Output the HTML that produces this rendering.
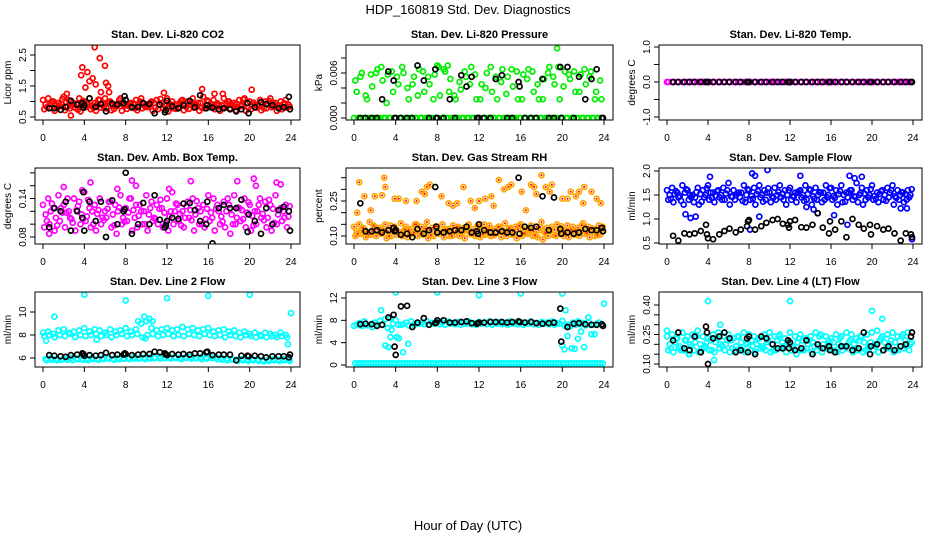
<!DOCTYPE html>
<html><head><meta charset="utf-8"><style>
html,body{margin:0;padding:0;background:#fff;}
svg{display:block;font-family:"Liberation Sans",Arial,sans-serif;}
</style></head><body>
<svg id="chart" width="936" height="540" viewBox="0 0 936 540" xmlns="http://www.w3.org/2000/svg">
<rect x="0" y="0" width="936" height="540" fill="#fff"/>
<text x="468" y="14" text-anchor="middle" font-size="13">HDP_160819  Std. Dev. Diagnostics</text>
<text x="468" y="530" text-anchor="middle" font-size="13">Hour of Day (UTC)</text>
</svg>
<script>
const blackHours=[0.6,1.1,1.7,2.2,2.7,3.3,3.8,3.9,4.0,4.5,5.1,5.6,6.1,6.7,7.2,7.8,7.9,8.0,8.6,9.2,9.7,10.3,10.8,11.3,11.8,11.9,12.0,12.5,13.1,13.6,14.2,14.7,15.2,15.8,15.9,16.4,17.0,17.5,18.1,18.7,19.2,19.8,19.9,20.5,21.1,21.6,22.2,22.8,23.3,23.8,23.9];
const xTicks=[0,4,8,12,16,20,24];

const co2A=[1.05,1.1,1.0,0.95,1.15,1.05,0.9,1.1,1.0,1.1,0.95,1.05,1.1,1.0,0.9,1.1,1.05,0.95,1.05,1.1,0.9,1.0,1.05,0.95,1.1,1.0,0.9,1.05,1.0,1.1,0.95,1.15,1.0,1.05,0.9,1.1,1.0,0.95,1.05,1.1,1.0,0.9,1.05,1.0,1.1,0.95,1.0,1.05];
const co2B=[0.75,0.8,0.7,0.85,0.72,0.78,0.8,0.68,0.82,0.75,0.7,0.8,0.78,0.72,0.85,0.7,0.76,0.8,0.72,0.78,0.82,0.7,0.75,0.8,0.68,0.78,0.82,0.72,0.76,0.8,0.7,0.78,0.82,0.75,0.7,0.8,0.78,0.72,0.85,0.7,0.75,0.8,0.72,0.78,0.82,0.7,0.75,0.8];
const co2C=[0.9,0.95,0.88,0.92,0.98,0.86,0.93,0.9,0.95,0.87,0.92,0.9,0.96,0.88,0.93,0.9,0.86,0.94,0.9,0.92,0.88,0.95,0.9,0.87,0.93,0.9,0.96,0.88,0.92,0.9,0.95,0.87,0.93,0.9,0.88,0.94,0.9,0.92,0.86,0.95,0.9,0.88,0.93,0.9,0.96,0.88,0.92,0.9];
const co2D=[0.82,1.0,0.78,1.08,0.85,0.96,0.74,1.02,0.88,0.8,1.06,0.84,0.98,0.76,1.04,0.86,0.92,0.78,1.0,0.84,0.96,0.8,1.08,0.86,0.9,0.76,1.02,0.82,0.98,0.86,0.8,1.04,0.84,0.94,0.78,1.0,0.86,0.82,1.06,0.8,0.96,0.84,0.78,1.02,0.88,0.8,0.94,0.84];
const co2OutH=[3.8,3.7,4.3,4.1,4.5,4.8,5.0,5.5,5.1,5.6,6.0,6.1,6.3,6.4,2.3,2.7,15.4,20.2,17.4,16.6,11.7];
const co2OutV=[2.1,1.85,1.95,1.45,1.65,1.75,2.75,2.4,1.55,1.3,2.15,1.6,1.5,1.3,1.25,0.55,1.4,1.38,1.25,1.25,1.28];
const co2Black=[0.78,0.78,0.73,0.82,1.02,0.9,0.95,0.8,0.88,1.1,0.83,0.92,0.68,0.93,0.9,0.95,1.17,1.05,0.82,0.82,0.95,0.92,0.62,0.9,0.65,0.72,1.02,0.85,0.78,0.88,1.02,0.82,1.2,0.78,0.88,0.8,0.75,0.78,0.75,0.68,0.75,0.95,0.62,0.82,0.98,0.92,0.88,0.78,0.82,1.15,0.75];

const presA=[0,0,0,0,0,0,0,0,0,0,0,0,0,0,0,0,0,0,0,0,0,0,0,0,0,0,0,0,0,0,0,0,0,0,0,0,0,0,0,0,0,0,0,0,0,0,0,0];
const presB=[0.005,0.0055,0.003,0.0058,0.006,0.0068,0.002,0.0062,0.0055,0.0068,0.004,0.0045,0.003,0.0062,0.0055,0.0025,0.0068,0.0065,0.0035,0.003,0.0048,0.0062,0.0045,0.0058,0.0025,0.004,0.0068,0.0055,0.0048,0.0032,0.0065,0.0062,0.0025,0.0052,0.0062,0.0045,0.0025,0.006,0.0055,0.0068,0.0042,0.0058,0.0062,0.0035,0.0065,0.0055,0.0025,0.005];
const presC=[0.0035,0.006,0.0025,0.0042,0.0065,0.005,0.0058,0.0035,0.0045,0.006,0.0025,0.0055,0.0065,0.0035,0.0045,0.0058,0.003,0.0062,0.0052,0.0025,0.0038,0.0055,0.0068,0.0025,0.0045,0.006,0.0035,0.0025,0.0065,0.0055,0.0042,0.0025,0.0058,0.0065,0.0035,0.0025,0.0052,0.0068,0.0045,0.0025,0.0062,0.0052,0.0035,0.0058,0.0045,0.0062,0.0035,0.0025];
const presD=presA;
const presOutH=[19.5,8.0,9.0];
const presOutV=[0.0093,0.007,0.007];
const presBlack=[0,0,0,0,0.0025,0.0062,0.005,0,0,0,0,0,0.007,0.005,0,0.0065,0,0,0,0.0025,0,0.0057,0.0042,0.0055,0,0,0,0,0,0.0052,0.0057,0,0,0.0048,0.0042,0,0,0,0.0052,0,0,0.0068,0,0.0068,0,0.0055,0.0025,0.0052,0.0065,0,0];

const tempA=presA;
const tempBlack=[0,0,0,0,0,0,0,0,0,0,0,0,0,0,0,0,0,0,0,0,0,0,0,0,0,0,0,0,0,0,0,0,0,0,0,0,0,0,0,0,0,0,0,0,0,0,0,0,0,0,0];

const boxA=[0.13,0.14,0.125,0.145,0.13,0.12,0.14,0.135,0.15,0.125,0.13,0.14,0.12,0.135,0.13,0.145,0.125,0.14,0.13,0.12,0.145,0.135,0.13,0.125,0.14,0.15,0.13,0.12,0.135,0.14,0.125,0.13,0.145,0.14,0.12,0.135,0.13,0.145,0.125,0.14,0.13,0.12,0.14,0.135,0.13,0.145,0.125,0.13];
const boxB=[0.095,0.1,0.09,0.105,0.095,0.11,0.09,0.1,0.105,0.095,0.09,0.1,0.11,0.095,0.085,0.1,0.105,0.09,0.095,0.1,0.09,0.105,0.1,0.095,0.09,0.1,0.105,0.095,0.11,0.09,0.1,0.095,0.105,0.09,0.1,0.095,0.085,0.1,0.105,0.095,0.09,0.1,0.11,0.095,0.09,0.1,0.105,0.095];
const boxC=[0.115,0.12,0.11,0.125,0.118,0.108,0.122,0.115,0.112,0.12,0.116,0.11,0.124,0.115,0.12,0.11,0.118,0.122,0.113,0.12,0.115,0.11,0.124,0.118,0.112,0.12,0.116,0.11,0.122,0.115,0.12,0.108,0.118,0.124,0.112,0.12,0.115,0.11,0.122,0.118,0.113,0.12,0.116,0.11,0.124,0.115,0.12,0.112];
const boxD=[0.105,0.132,0.098,0.118,0.14,0.102,0.128,0.108,0.138,0.1,0.122,0.106,0.135,0.098,0.126,0.104,0.14,0.11,0.13,0.1,0.125,0.108,0.138,0.102,0.12,0.132,0.098,0.128,0.106,0.136,0.1,0.124,0.11,0.13,0.104,0.14,0.1,0.126,0.108,0.134,0.098,0.13,0.106,0.138,0.102,0.122,0.11,0.128];
const boxOutH=[2.0,3.8,4.6,7.2,8.6,9.0,12.2,14.3,18.8,20.4,20.6,22.6,23.0,0.6];
const boxOutV=[0.158,0.153,0.165,0.155,0.168,0.16,0.155,0.167,0.167,0.171,0.16,0.165,0.162,0.085];
const boxBlack=[0.095,0.125,0.12,0.135,0.09,0.12,0.11,0.15,0.09,0.135,0.105,0.135,0.08,0.137,0.1,0.12,0.123,0.18,0.085,0.1,0.133,0.1,0.145,0.107,0.095,0.098,0.105,0.11,0.108,0.132,0.133,0.122,0.105,0.1,0.135,0.07,0.125,0.13,0.125,0.125,0.138,0.088,0.115,0.105,0.085,0.125,0.1,0.122,0.127,0.12,0.09];

const rhA=[0.14,0.15,0.13,0.16,0.14,0.135,0.15,0.145,0.13,0.155,0.14,0.13,0.15,0.14,0.16,0.135,0.14,0.15,0.13,0.145,0.14,0.135,0.15,0.13,0.14,0.15,0.145,0.13,0.14,0.155,0.135,0.14,0.15,0.13,0.145,0.14,0.16,0.135,0.14,0.15,0.13,0.145,0.14,0.135,0.155,0.14,0.13,0.145];
const rhB=[0.1,0.11,0.095,0.105,0.1,0.11,0.09,0.1,0.105,0.1,0.095,0.11,0.1,0.105,0.09,0.1,0.11,0.095,0.1,0.105,0.1,0.09,0.11,0.1,0.095,0.105,0.1,0.11,0.095,0.1,0.105,0.09,0.1,0.11,0.1,0.095,0.085,0.1,0.105,0.11,0.1,0.095,0.105,0.1,0.11,0.095,0.1,0.105];
const rhC=[0.12,0.125,0.118,0.122,0.128,0.115,0.12,0.125,0.118,0.12,0.126,0.115,0.122,0.12,0.125,0.118,0.12,0.128,0.115,0.122,0.12,0.125,0.118,0.12,0.126,0.115,0.122,0.12,0.125,0.118,0.12,0.128,0.115,0.122,0.12,0.125,0.118,0.12,0.126,0.115,0.122,0.12,0.125,0.118,0.12,0.128,0.115,0.122];
const rhD=[0.11,0.135,0.105,0.145,0.112,0.13,0.1,0.14,0.115,0.128,0.106,0.15,0.11,0.132,0.104,0.142,0.112,0.126,0.1,0.138,0.114,0.13,0.106,0.146,0.11,0.128,0.102,0.14,0.112,0.132,0.106,0.144,0.11,0.126,0.104,0.138,0.112,0.13,0.1,0.142,0.11,0.128,0.106,0.146,0.112,0.132,0.104,0.14];
const rhOutH=[0.3,0.5,1.0,1.6,2.0,2.7,2.9,3.0,3.9,4.3,5.0,6.0,6.5,6.8,7.0,7.3,8.4,9.1,9.5,9.9,10.5,11.2,11.6,12.0,12.6,13.2,13.9,13.4,14.4,14.8,15.1,16.1,16.5,17.0,17.3,17.5,18.0,18.4,19.0,18.8,20.0,20.5,20.8,21.3,21.6,22.1,22.0,22.8,23.3,23.7];
const rhOutV=[0.2,0.33,0.27,0.21,0.27,0.275,0.35,0.31,0.26,0.26,0.25,0.25,0.29,0.28,0.31,0.32,0.27,0.24,0.23,0.24,0.31,0.25,0.22,0.25,0.26,0.27,0.34,0.23,0.3,0.31,0.32,0.29,0.21,0.32,0.31,0.28,0.36,0.31,0.32,0.29,0.26,0.26,0.29,0.27,0.29,0.31,0.24,0.29,0.26,0.24];
const rhBlack=[0.24,0.12,0.12,0.125,0.115,0.125,0.135,0.12,0.125,0.105,0.11,0.095,0.13,0.11,0.125,0.31,0.14,0.115,0.115,0.12,0.125,0.125,0.14,0.115,0.12,0.11,0.15,0.125,0.115,0.115,0.12,0.115,0.115,0.35,0.11,0.14,0.135,0.14,0.27,0.125,0.265,0.13,0.11,0.115,0.11,0.115,0.13,0.125,0.125,0.135,0.12];

const sfA=[1.6,1.65,1.55,1.7,1.6,1.5,1.65,1.6,1.7,1.55,1.6,1.65,1.75,1.6,1.55,1.7,1.6,1.65,1.7,1.6,1.55,1.65,1.7,1.6,1.65,1.55,1.6,1.7,1.6,1.65,1.55,1.7,1.65,1.6,1.7,1.55,1.6,1.75,1.65,1.6,1.7,1.55,1.6,1.65,1.7,1.6,1.55,1.6];
const sfB=[1.4,1.35,1.45,1.3,1.4,1.35,1.3,1.45,1.4,1.35,1.45,1.4,1.3,1.4,1.45,1.35,1.4,1.3,1.45,1.4,1.35,1.4,1.45,1.3,1.4,1.35,1.45,1.4,1.3,1.4,1.35,1.45,1.4,1.3,1.35,1.45,1.4,1.35,1.3,1.45,1.4,1.35,1.4,1.45,1.3,1.4,1.35,1.45];
const sfC=[1.5,1.52,1.48,1.55,1.5,1.45,1.52,1.5,1.55,1.48,1.5,1.53,1.47,1.5,1.55,1.5,1.48,1.52,1.5,1.55,1.47,1.5,1.53,1.5,1.48,1.55,1.5,1.52,1.47,1.5,1.55,1.5,1.48,1.52,1.5,1.55,1.47,1.5,1.53,1.5,1.48,1.52,1.5,1.55,1.47,1.5,1.52,1.5];
const sfD=[1.42,1.58,1.38,1.62,1.45,1.56,1.36,1.64,1.44,1.58,1.4,1.6,1.46,1.54,1.38,1.62,1.42,1.58,1.36,1.64,1.44,1.56,1.4,1.6,1.46,1.58,1.38,1.62,1.42,1.56,1.4,1.64,1.44,1.58,1.36,1.6,1.46,1.54,1.4,1.62,1.42,1.58,1.38,1.6,1.44,1.56,1.4,1.62];
const sfOutH=[1.8,2.3,2.8,4.2,8.3,8.6,9.8,9.0,13.0,13.6,14.3,14.7,16.3,17.6,17.8,18.3,19.0,22.8,23.4,23.9,8.1];
const sfOutV=[1.1,1.02,1.05,1.88,1.95,1.9,2.02,1.05,1.9,1.25,1.2,1.12,1.08,0.88,1.9,1.85,1.88,1.22,1.22,0.58,0.78];
const sfBlack=[0.65,0.55,0.7,0.68,0.7,0.75,0.88,0.68,0.6,0.58,0.68,0.75,0.8,0.72,0.78,0.85,0.95,0.98,0.78,0.85,0.92,0.98,1.0,0.9,0.88,0.82,0.95,0.98,0.83,0.82,0.88,1.12,0.82,0.7,0.95,0.78,0.95,0.62,1.0,0.88,0.8,0.88,0.68,0.85,0.78,0.8,0.7,0.55,0.7,0.68,0.62];

const l2A=[8.2,8.3,8.1,8.4,8.5,8.2,8.3,8.4,8.6,8.3,8.5,8.4,8.2,8.5,8.3,8.4,8.6,8.3,8.5,9.0,9.2,8.6,8.4,8.5,8.6,8.4,8.5,8.7,8.5,8.6,8.4,8.5,8.6,8.3,8.4,8.5,8.3,8.4,8.2,8.3,8.1,8.2,8.0,8.2,8.1,8.0,8.2,8.0];
const l2B=[7.9,8.0,7.8,8.0,7.9,8.1,7.8,8.0,7.9,8.0,8.1,7.9,8.0,7.8,8.0,8.1,7.9,8.0,8.1,7.8,8.0,8.1,7.9,8.0,8.1,7.9,8.0,7.9,8.1,8.0,7.9,8.1,8.0,7.9,8.0,7.8,8.0,7.9,7.8,8.0,7.9,7.8,7.9,7.8,7.9,7.8,7.9,7.8];
const l2C=[5.9,6.0,5.9,5.85,5.9,6.0,5.95,5.9,5.95,6.0,5.9,5.95,6.0,5.9,6.0,5.95,6.0,6.05,5.95,6.0,6.05,6.0,6.1,6.0,6.05,6.1,6.0,6.05,6.1,6.0,6.05,6.0,6.1,6.05,6.0,5.95,5.9,5.85,5.9,5.85,5.9,5.85,5.8,5.85,5.9,5.85,5.9,5.85];
const l2D=[5.8,5.85,5.8,5.9,5.85,5.8,5.9,5.85,5.8,5.9,5.85,5.9,5.95,5.85,5.9,5.95,5.9,5.95,6.0,5.9,5.95,6.0,5.95,6.0,5.95,6.0,5.9,6.0,5.95,6.0,5.9,5.95,6.0,5.9,5.85,5.8,5.85,5.75,5.8,5.75,5.8,5.75,5.7,5.75,5.8,5.75,5.8,5.75];
const l2OutH=[1.1,4.0,8.0,12.0,16.0,20.0,24.0,9.2,9.8,10.3,10.6,23.7,9.9,5.2,0.3];
const l2OutV=[9.6,11.5,11.0,11.2,11.4,11.5,9.9,9.2,9.6,9.4,9.2,7.2,7.7,7.6,7.5];
const l2Black=[6.25,6.2,6.15,6.1,6.25,6.3,6.4,6.35,6.2,6.25,6.2,6.25,6.45,6.25,6.3,6.3,6.4,6.35,6.25,6.3,6.35,6.35,6.55,6.5,6.4,6.3,6.25,6.35,6.3,6.35,6.3,6.4,6.4,6.5,6.55,6.25,6.3,6.3,6.3,5.8,6.2,6.2,6.15,6.2,6.15,6.05,6.15,6.15,6.15,6.05,6.3];

const l3A=[7.0,7.5,7.8,7.2,7.6,7.9,8.2,8.4,8.0,7.2,7.6,7.8,7.4,7.6,7.8,7.5,7.7,7.6,7.8,7.5,7.7,7.6,7.8,7.5,7.7,7.6,7.8,7.6,7.7,7.5,7.8,7.6,7.7,7.6,7.8,7.5,7.7,7.6,7.8,7.5,7.9,7.2,7.6,7.8,7.5,7.7,7.2,7.6];
const l3B=[0.3,0.3,0.3,0.3,0.3,0.3,0.3,0.3,0.3,0.3,0.3,0.3,0.3,0.3,0.3,0.3,0.3,0.3,0.3,0.3,0.3,0.3,0.3,0.3,0.3,0.3,0.3,0.3,0.3,0.3,0.3,0.3,0.3,0.3,0.3,0.3,0.3,0.3,0.3,0.3,0.3,0.3,0.3,0.3,0.3,0.3,0.3,0.3];
const l3C=[7.2,7.0,7.1,6.8,7.3,7.2,6.6,7.4,7.2,7.3,7.1,7.2,7.4,7.3,7.2,7.4,7.3,7.2,7.4,7.3,7.2,7.4,7.3,7.2,7.4,7.3,7.2,7.4,7.3,7.2,7.4,7.3,7.2,7.4,7.3,7.2,7.4,7.3,7.2,7.4,7.0,6.9,7.2,7.3,7.1,7.2,7.3,7.2];
const l3D=l3B;
const l3OutH=[2.6,3.0,3.3,3.5,3.6,4.0,4.1,4.3,4.7,5.2,8.0,12.0,16.0,20.0,20.3,20.2,20.5,20.9,21.2,21.5,21.8,22.1,22.5,22.8,23.1,24.0,20.0];
const l3OutV=[9.8,3.5,3.2,5.0,6.3,13.0,5.0,4.8,2.3,3.8,13.0,12.5,12.8,12.8,9.8,2.8,5.2,3.0,2.9,4.7,6.0,3.2,8.5,5.5,5.5,11.0,3.5];
const l3Black=[7.3,7.4,7.3,7.0,7.2,8.5,9.0,3.3,1.8,10.5,10.6,6.8,7.6,8.4,7.2,7.5,7.6,8.0,8.0,7.6,7.6,7.7,7.8,7.5,7.4,7.5,7.6,7.6,7.7,7.7,7.7,7.6,7.7,7.8,7.7,7.6,7.7,7.5,7.4,7.5,7.6,10.1,4.2,6.8,7.4,7.5,7.3,7.2,7.2,7.3,7.0];

const l4A=[0.24,0.25,0.23,0.26,0.24,0.25,0.27,0.24,0.23,0.25,0.26,0.24,0.25,0.23,0.24,0.26,0.25,0.24,0.23,0.25,0.26,0.24,0.25,0.23,0.26,0.24,0.25,0.23,0.24,0.26,0.25,0.24,0.23,0.25,0.24,0.26,0.25,0.23,0.24,0.25,0.26,0.27,0.24,0.25,0.26,0.24,0.25,0.26];
const l4B=[0.17,0.16,0.18,0.17,0.15,0.17,0.16,0.18,0.17,0.16,0.18,0.17,0.16,0.17,0.18,0.16,0.17,0.16,0.18,0.17,0.16,0.17,0.18,0.16,0.17,0.15,0.17,0.18,0.16,0.17,0.16,0.18,0.17,0.16,0.17,0.18,0.16,0.17,0.16,0.18,0.17,0.16,0.17,0.18,0.16,0.17,0.18,0.17];
const l4C=[0.2,0.21,0.19,0.22,0.2,0.21,0.2,0.19,0.22,0.21,0.2,0.2,0.22,0.19,0.21,0.2,0.22,0.2,0.19,0.21,0.2,0.22,0.21,0.2,0.19,0.21,0.22,0.2,0.21,0.19,0.2,0.22,0.21,0.2,0.19,0.21,0.2,0.22,0.21,0.19,0.2,0.22,0.21,0.2,0.21,0.19,0.22,0.2];
const l4D=[0.18,0.23,0.17,0.22,0.19,0.24,0.18,0.21,0.17,0.23,0.19,0.22,0.18,0.24,0.17,0.21,0.19,0.23,0.18,0.22,0.17,0.24,0.19,0.21,0.18,0.23,0.17,0.22,0.19,0.24,0.18,0.21,0.17,0.23,0.19,0.22,0.18,0.24,0.17,0.21,0.19,0.23,0.18,0.22,0.17,0.24,0.19,0.21];
const l4OutH=[4.0,12.0,20.0,21.0,5.2,0.0,2.2,4.6];
const l4OutV=[0.42,0.42,0.37,0.33,0.3,0.27,0.15,0.12];
const l4Black=[0.22,0.26,0.18,0.17,0.24,0.16,0.29,0.26,0.1,0.23,0.24,0.26,0.23,0.16,0.17,0.23,0.16,0.24,0.15,0.24,0.23,0.2,0.18,0.18,0.22,0.18,0.21,0.17,0.18,0.22,0.15,0.2,0.18,0.19,0.17,0.16,0.19,0.19,0.17,0.18,0.26,0.15,0.19,0.2,0.17,0.19,0.17,0.19,0.2,0.24,0.26];

const cloudHours=Array.from({length:48},(_,i)=>i*0.5);

const NS="http://www.w3.org/2000/svg";
const svg=document.getElementById('chart');
function mk(tag,attrs,parent){const e=document.createElementNS(NS,tag);for(const k in attrs)e.setAttribute(k,attrs[k]);(parent||svg).appendChild(e);return e;}

const cols=[[35,300],[346,613],[659,922]];
const rows=[[45,120],[168,244],[292,367]];
const panels=[
 {key:'co2',title:'Stan. Dev. Li-820 CO2',ylab:'Licor ppm',c:0,r:0,cal:[0.5,117,2.5,55],ticks:[0.5,1,1.5,2,2.5],labels:[0.5,1.5,2.5],dec:1,color:'#ff0000',clouds:[co2A,co2B,co2C,co2D],oh:co2OutH,ov:co2OutV,blk:co2Black},
 {key:'pressure',title:'Stan. Dev. Li-820 Pressure',ylab:'kPa',c:1,r:0,cal:[0,118,0.006,73],ticks:[0,0.002,0.004,0.006,0.008],labels:[0,0.006],dec:3,color:'#00ee00',clouds:[presA,presB,presC,presD],oh:presOutH,ov:presOutV,blk:presBlack},
 {key:'temp',title:'Stan. Dev. Li-820 Temp.',ylab:'degrees C',c:2,r:0,cal:[-1,117,1,47],ticks:[-1,-0.5,0,0.5,1],labels:[-1,0,1],dec:1,color:'#ff00ff',clouds:[tempA,tempA],oh:[],ov:[],blk:tempBlack},
 {key:'boxtemp',title:'Stan. Dev. Amb. Box Temp.',ylab:'degrees C',c:0,r:1,cal:[0.08,237,0.14,198.5],ticks:[0.08,0.1,0.12,0.14,0.16,0.18],labels:[0.08,0.14],dec:2,color:'#ff00ff',clouds:[boxA,boxB,boxC,boxD],oh:boxOutH,ov:boxOutV,blk:boxBlack},
 {key:'rh',title:'Stan. Dev. Gas Stream RH',ylab:'percent',c:1,r:1,cal:[0.1,236,0.25,201],ticks:[0.1,0.15,0.2,0.25,0.3,0.35],labels:[0.1,0.25],dec:2,color:'#ffa500',inner:'#ff0000',clouds:[rhA,rhB,rhC,rhD],oh:rhOutH,ov:rhOutV,blk:rhBlack},
 {key:'sampleflow',title:'Stan. Dev. Sample Flow',ylab:'ml/min',c:2,r:1,cal:[0.5,243,2.0,171],ticks:[0.5,1,1.5,2],labels:[0.5,1,1.5,2],dec:1,color:'#0000ff',clouds:[sfA,sfB,sfC,sfD],oh:sfOutH,ov:sfOutV,blk:sfBlack},
 {key:'line2',title:'Stan. Dev. Line 2 Flow',ylab:'ml/min',c:0,r:2,cal:[6,358,10,312],ticks:[6,8,10],labels:[6,8,10],dec:0,color:'#00ffff',clouds:[l2A,l2B,l2C,l2D],oh:l2OutH,ov:l2OutV,blk:l2Black},
 {key:'line3',title:'Stan. Dev. Line 3 Flow',ylab:'ml/min',c:1,r:2,cal:[0,365,12,298],ticks:[0,4,8,12],labels:[0,4,8,12],dec:0,color:'#00ffff',clouds:[l3A,l3B,l3C,l3D],oh:l3OutH,ov:l3OutV,blk:l3Black},
 {key:'line4',title:'Stan. Dev. Line 4 (LT) Flow',ylab:'ml/min',c:2,r:2,cal:[0.1,364,0.4,305],ticks:[0.1,0.15,0.2,0.25,0.3,0.35,0.4],labels:[0.1,0.25,0.4],dec:2,color:'#00ffff',clouds:[l4A,l4B,l4C,l4D],oh:l4OutH,ov:l4OutV,blk:l4Black}
];

function marker(g,x,y,col,inner){
 const c=mk('circle',{cx:x.toFixed(1),cy:y.toFixed(1),r:2.5,fill:'none',stroke:col,'stroke-width':1.7},g);
 
 
 if(inner){const d=mk('circle',{cx:x.toFixed(1),cy:y.toFixed(1),r:1,fill:inner},g);
  
  }
}

panels.forEach(p=>{
 const [L,R]=cols[p.c],[T,B]=rows[p.r];
 const g=mk('g',{});
 
 
 const xs=h=>L+8+(h/24)*(R-L-17);
 const ys=v=>p.cal[1]+(v-p.cal[0])*(p.cal[3]-p.cal[1])/(p.cal[2]-p.cal[0]);
 const clip='clip-'+p.key;
 const cp=mk('clipPath',{id:clip},g);mk('rect',{x:L,y:T,width:R-L,height:B-T},cp);
 const pts=mk('g',{'clip-path':'url(#'+clip+')'},g);
 
 
 p.clouds.forEach((arr,j)=>arr.forEach((v,i)=>marker(pts,xs(cloudHours[i]+j*0.125),ys(v),p.color,p.inner)));
 p.oh.forEach((h,i)=>marker(pts,xs(h),ys(p.ov[i]),p.color,p.inner));
 const bg=mk('g',{'clip-path':'url(#'+clip+')'},g);
 
 
 p.blk.forEach((v,i)=>marker(bg,xs(blackHours[i]),ys(v),'#000'));
 const box=mk('rect',{x:L,y:T,width:R-L,height:B-T,fill:'none',stroke:'#000','stroke-width':1},g);
 
 
 const t=mk('text',{x:(L+R)/2,y:T-7,'text-anchor':'middle','font-size':11,'font-weight':'bold'},g);
 t.textContent=p.title;
 
 
 const xa=mk('g',{stroke:'#000','stroke-width':1},g);
 
 
 mk('line',{x1:xs(0),x2:xs(24),y1:B,y2:B},xa);
 xTicks.forEach(h=>{
  mk('line',{x1:xs(h),x2:xs(h),y1:B,y2:B+5},xa);
  const tl=mk('text',{x:xs(h),y:B+21,'text-anchor':'middle','font-size':10,stroke:'none',fill:'#000'},g);
  tl.textContent=h;
  
  
 });
 const ya=mk('g',{stroke:'#000','stroke-width':1},g);
 
 
 mk('line',{x1:L,x2:L,y1:ys(p.ticks[0]),y2:ys(p.ticks[p.ticks.length-1])},ya);
 p.ticks.forEach(v=>mk('line',{x1:L-5,x2:L,y1:ys(v),y2:ys(v)},ya));
 p.labels.forEach(v=>{
  const x=L-9,y=ys(v);
  const tl=mk('text',{x:x,y:y,'text-anchor':'middle','font-size':10,transform:`rotate(-90 ${x} ${y})`},g);
  tl.textContent=v.toFixed(p.dec);
  
  
 });
 const yx=L-24,yy=(T+B)/2;
 const yl=mk('text',{x:yx,y:yy,'text-anchor':'middle','font-size':10,transform:`rotate(-90 ${yx} ${yy})`},g);
 yl.textContent=p.ylab;
 
 
});
</script>
</body></html>
